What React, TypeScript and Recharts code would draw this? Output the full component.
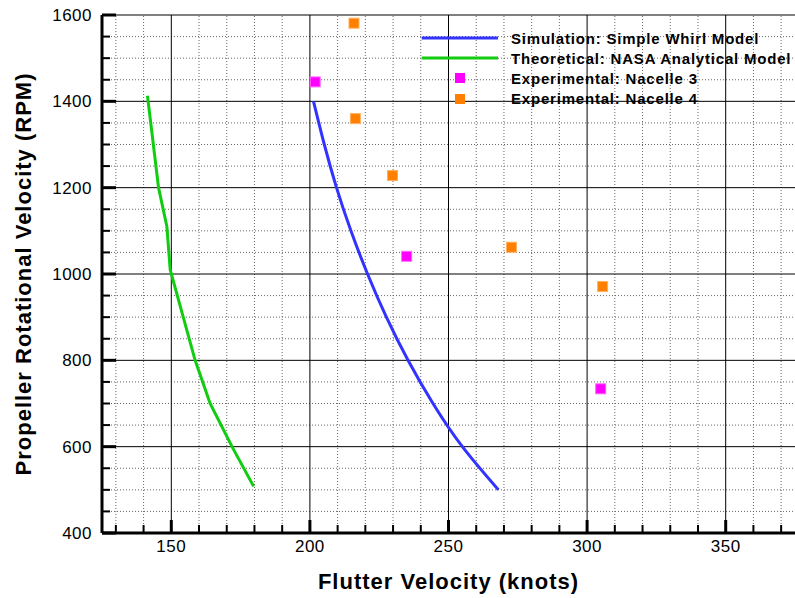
import React from 'react';
import { ComposedChart, Line, Scatter, XAxis, YAxis, ReferenceLine, Legend } from 'recharts';

// Series names (legend order)
const seriesNames = [
  'Simulation: Simple Whirl Model',
  'Theoretical: NASA Analytical Model',
  'Experimental: Nacelle 3',
  'Experimental: Nacelle 4',
];

// Simulation: Simple Whirl Model
const simVelocity = [201.3, 205.2, 209.6, 214.8, 220.8, 227.6, 235.4, 244.4, 255.0, 268.0];
const simRpm = [1400, 1300, 1200, 1100, 1000, 900, 800, 700, 600, 500];

// Theoretical: NASA Analytical Model
const theoVelocity = [141.4, 145.4, 148.4, 149.6, 158.6, 164.0, 171.9, 179.7];
const theoRpm = [1413, 1200, 1110, 1010, 800, 700, 600, 508];

// Experimental: Nacelle 3
const n3Velocity = [201.9, 234.9, 304.9];
const n3Rpm = [1445, 1041, 734];

// Experimental: Nacelle 4
const n4Velocity = [215.9, 216.4, 229.8, 272.7, 305.6];
const n4Rpm = [1581, 1360, 1228, 1062, 971];

// Axis ticks
const xTicks = [130, 140, 150, 160, 170, 180, 190, 200, 210, 220, 230, 240, 250, 260, 270, 280, 290, 300, 310, 320, 330, 340, 350, 360, 370];
const xMajor = [150, 200, 250, 300, 350];
const yTicks = [400, 450, 500, 550, 600, 650, 700, 750, 800, 850, 900, 950, 1000, 1050, 1100, 1150, 1200, 1250, 1300, 1350, 1400, 1450, 1500, 1550, 1600];
const yMajor = [400, 600, 800, 1000, 1200, 1400, 1600];

const FONT = '"Liberation Sans", Arial, Helvetica, sans-serif';

const toPoints = (xs: number[], ys: number[]) => xs.map((x, i) => ({ v: x, rpm: ys[i] }));

const simData = toPoints(simVelocity, simRpm);
const theoData = toPoints(theoVelocity, theoRpm);
const n3Data = toPoints(n3Velocity, n3Rpm);
const n4Data = toPoints(n4Velocity, n4Rpm);

const XTick = (p: any) => {
  const val = p.payload.value;
  const major = xMajor.includes(val);
  return (
    <g>
      <line x1={p.x} x2={p.x} y1={p.y} y2={p.y - (major ? 13 : 8)} stroke="#000" strokeWidth={major ? 3 : 2} />
      {major && (
        <text x={p.x} y={p.y + 19} textAnchor="middle" fontSize={17} fontFamily={FONT} fill="#000" style={{ letterSpacing: 0.5 }}>
          {val}
        </text>
      )}
    </g>
  );
};

const YTick = (p: any) => {
  const val = p.payload.value;
  const major = yMajor.includes(val);
  return (
    <g>
      <line x1={p.x} x2={p.x + (major ? 14 : 8)} y1={p.y} y2={p.y} stroke="#000" strokeWidth={major ? 3 : 2} />
      {major && (
        <text x={p.x - 10} y={p.y} dy="0.36em" textAnchor="end" fontSize={17} fontFamily={FONT} fill="#000" style={{ letterSpacing: 0.5 }}>
          {val}
        </text>
      )}
    </g>
  );
};

const SquareShape = (p: any) => (
  <rect x={p.cx - 5} y={p.cy - 5} width={10} height={10} fill={p.fill} stroke={p.edge} strokeWidth={1} />
);

const renderLegend = (props: any) => {
  const payload = (props.payload || [])
    .slice()
    .sort((a: any, b: any) => seriesNames.indexOf(a.value) - seriesNames.indexOf(b.value));
  return (
    <div style={{ fontFamily: FONT, fontWeight: 'bold', fontSize: 15, letterSpacing: 0.8, color: '#000' }}>
      {payload.map((entry: any, i: number) => (
        <div key={i} style={{ display: 'flex', alignItems: 'center', height: 20.2, whiteSpace: 'nowrap' }}>
          <svg width={93} height={20} style={{ flex: '0 0 auto', display: 'block' }}>
            {entry.type === 'line' ? (
              <line x1={3.7} x2={80} y1={10} y2={10} stroke={entry.color} strokeWidth={3} />
            ) : (
              <rect x={37} y={5} width={10} height={10} fill={entry.color} />
            )}
          </svg>
          <span>{entry.value}</span>
        </div>
      ))}
    </div>
  );
};

const minorX = xTicks.filter((t) => !xMajor.includes(t));
const minorY = yTicks.filter((t) => !yMajor.includes(t));
const majorYGrid = yMajor.filter((t) => t !== 400);

export default function App() {
  return (
    <div style={{ position: 'absolute', left: 0, top: 0, width: 795, height: 598, background: '#fff' }}>
      <ComposedChart width={795} height={598} margin={{ top: 15, right: 0, bottom: 0, left: 0 }}>
        {minorX.map((v) => (
          <ReferenceLine key={'mx' + v} x={v} stroke="#666" strokeWidth={1} strokeDasharray="1 2" />
        ))}
        {minorY.map((v) => (
          <ReferenceLine key={'my' + v} y={v} stroke="#666" strokeWidth={1} strokeDasharray="1 2" />
        ))}
        {xMajor.map((v) => (
          <ReferenceLine key={'Mx' + v} x={v} stroke="#000" strokeWidth={1} />
        ))}
        {majorYGrid.map((v) => (
          <ReferenceLine key={'My' + v} y={v} stroke="#000" strokeWidth={1} />
        ))}
        <XAxis
          type="number"
          dataKey="v"
          domain={[125, 375]}
          ticks={xTicks}
          interval={0}
          height={65}
          tickSize={0}
          tickMargin={0}
          tickLine={false}
          axisLine={{ stroke: '#000', strokeWidth: 3 }}
          tick={(p: any) => <XTick {...p} />}
          allowDataOverflow
          label={{
            value: 'Flutter Velocity (knots)',
            position: 'insideBottom',
            offset: 9,
            style: { fontFamily: FONT, fontSize: 22, fontWeight: 'bold', fill: '#000', letterSpacing: 1 },
          }}
        />
        <YAxis
          type="number"
          dataKey="rpm"
          domain={[400, 1600]}
          ticks={yTicks}
          interval={0}
          width={102}
          tickSize={0}
          tickMargin={0}
          tickLine={false}
          axisLine={{ stroke: '#000', strokeWidth: 3 }}
          tick={(p: any) => <YTick {...p} />}
          allowDataOverflow
          label={{
            value: 'Propeller Rotational Velocity (RPM)',
            angle: -90,
            position: 'insideLeft',
            offset: 23,
            style: { fontFamily: FONT, fontSize: 22, fontWeight: 'bold', fill: '#000', letterSpacing: 1, textAnchor: 'middle' },
          }}
        />
        <Line
          data={simData}
          dataKey="rpm"
          name={seriesNames[0]}
          type="natural"
          stroke="#3333ff"
          strokeWidth={3}
          dot={false}
          activeDot={false}
          legendType="line"
          isAnimationActive={false}
        />
        <Line
          data={theoData}
          dataKey="rpm"
          name={seriesNames[1]}
          type="linear"
          stroke="#11cc11"
          strokeWidth={3}
          dot={false}
          activeDot={false}
          legendType="line"
          isAnimationActive={false}
        />
        <Scatter
          data={n3Data}
          dataKey="rpm"
          name={seriesNames[2]}
          fill="#ff00ff"
          legendType="square"
          shape={(p: any) => <SquareShape {...p} edge="#ff66ff" />}
          isAnimationActive={false}
        />
        <Scatter
          data={n4Data}
          dataKey="rpm"
          name={seriesNames[3]}
          fill="#ff8000"
          legendType="square"
          shape={(p: any) => <SquareShape {...p} edge="#ffb060" />}
          isAnimationActive={false}
        />
        <Legend
          layout="vertical"
          align="center"
          verticalAlign="middle"
          content={renderLegend}
          wrapperStyle={{ left: 418, top: 28, width: 377, right: 'auto', bottom: 'auto' }}
        />
      </ComposedChart>
    </div>
  );
}
